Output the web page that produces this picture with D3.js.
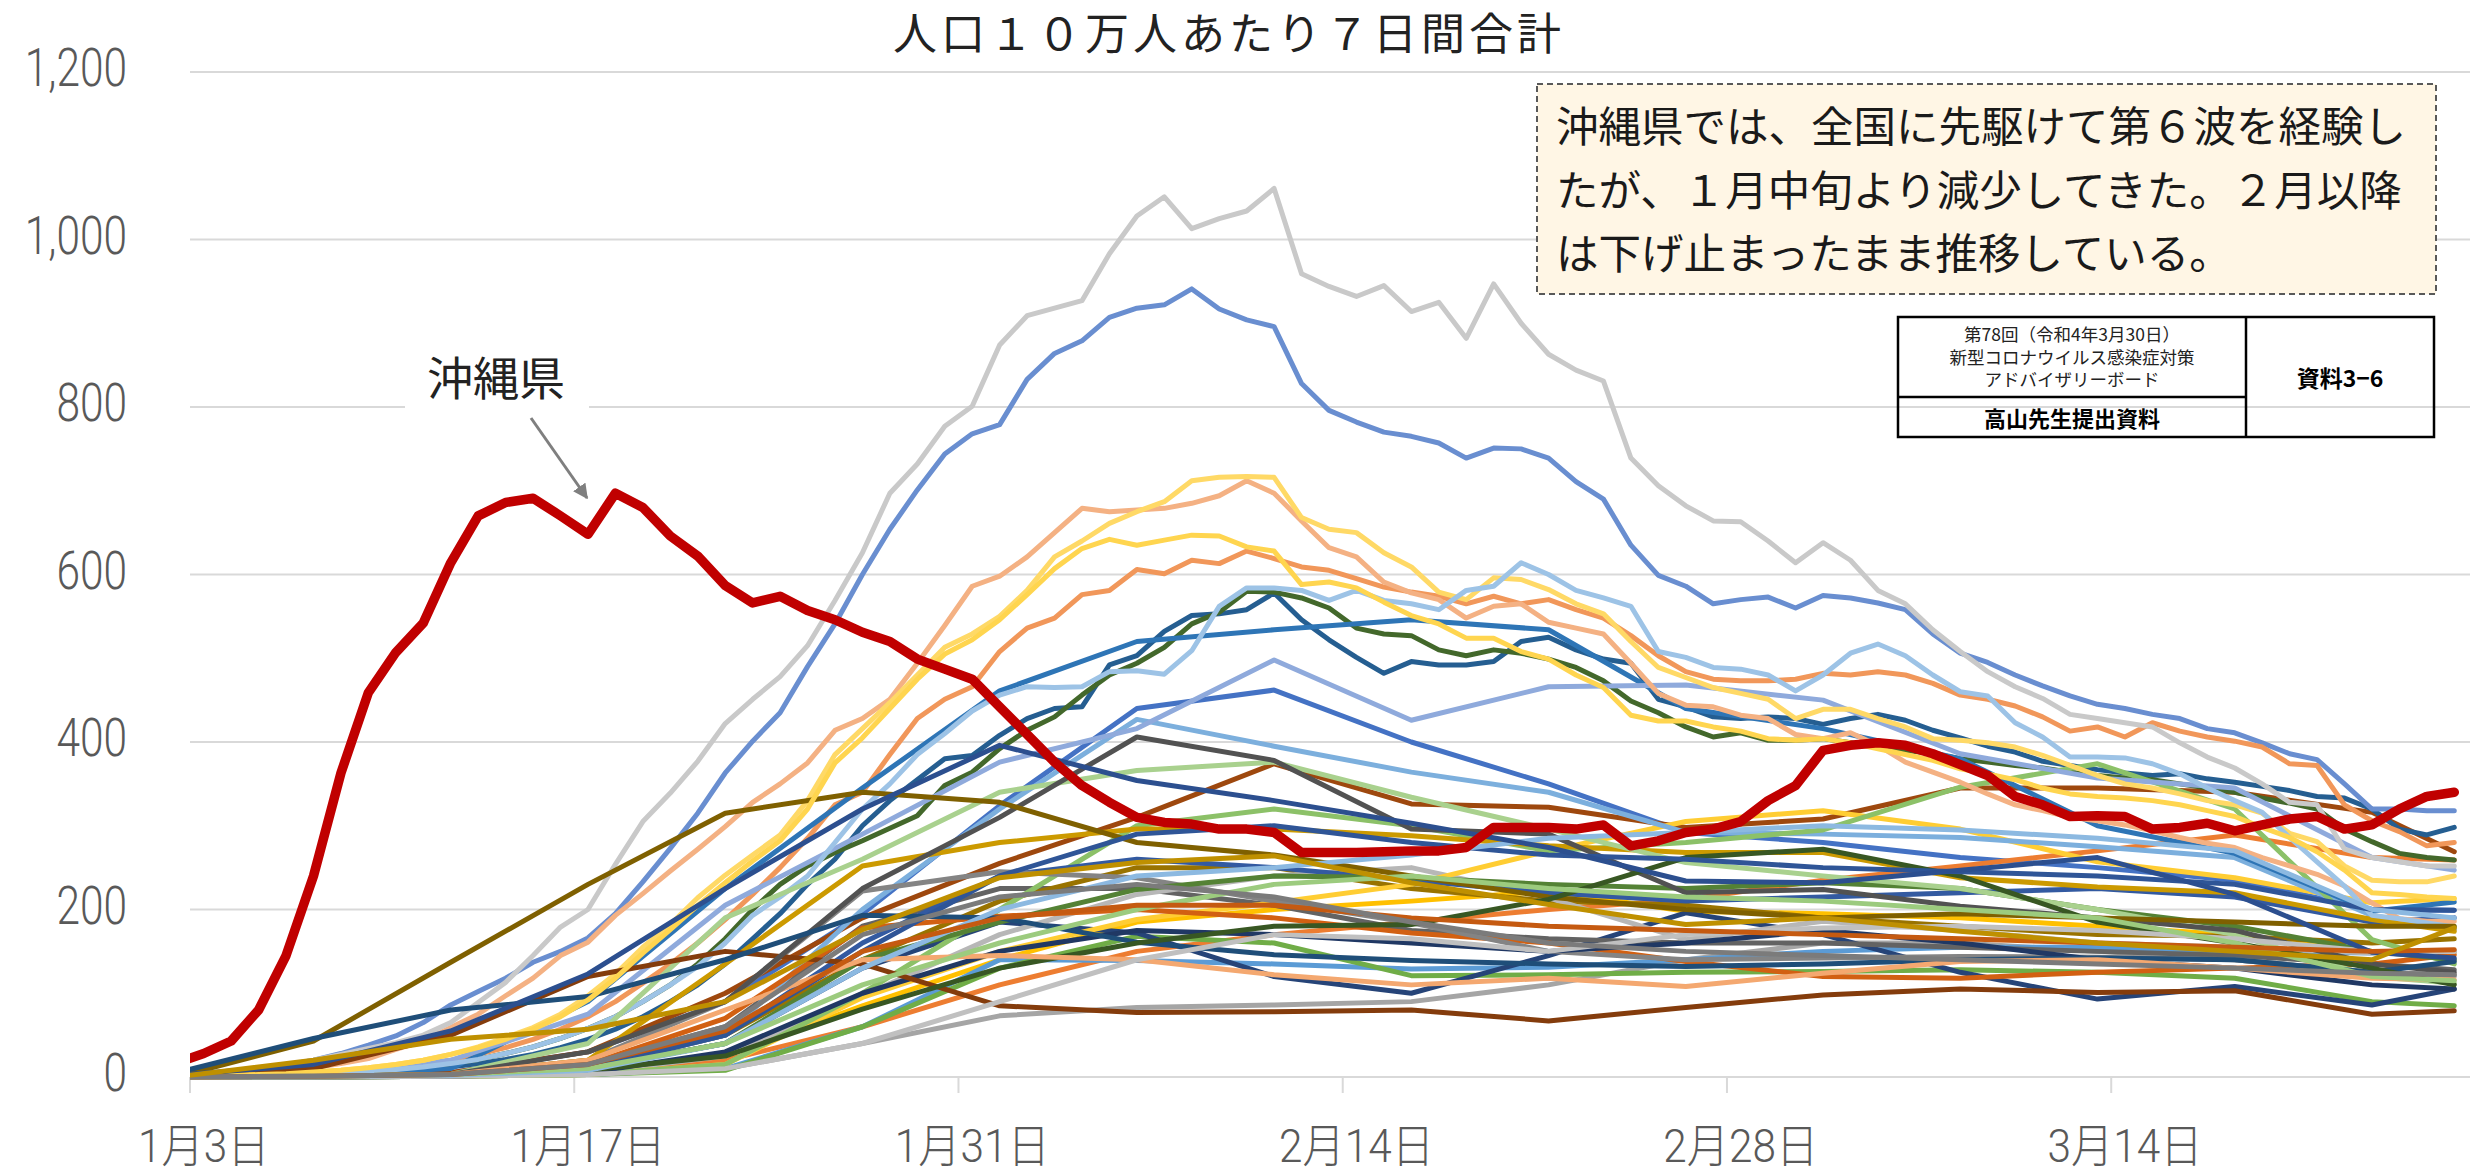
<!DOCTYPE html>
<html>
<head>
<meta charset="utf-8">
<script src="https://cdn.jsdelivr.net/npm/d3@7"></script>
<style>
  body { margin: 0; background: #fff; }
  svg { display: block; }
</style>
</head>
<body>
<div id="chart"></div>
<script>
const W = 2478, H = 1173;

// x axis: Jan 3 .. Mar 27 2022, each value sits in the middle of its day
const axisStart = new Date(2022, 0, 3);
const axisEnd = new Date(2022, 2, 27);
const tickDates = [new Date(2022, 0, 3), new Date(2022, 0, 17), new Date(2022, 0, 31),
                   new Date(2022, 1, 14), new Date(2022, 1, 28), new Date(2022, 2, 14)];
const yTicks = [0, 200, 400, 600, 800, 1000, 1200];

// day offsets from Jan 3
const dailyDays = d3.range(-1, 83);
const sparseDays = [-1, 4, 9, 14, 19, 24, 29, 34, 39, 44, 49, 54, 59, 64, 69, 74, 79, 82];

// daily series (Jan 2 .. Mar 26)
const okinawa = [17,28,43,80,145,240,363,459,507,542, 614,670,686,691,670,648,697,680,646,622,
  587,566,574,557,546,531,520,499,487,475, 442,409,376,348,328,310,304,302,296,296,
  292,268,268,268,269,270,270,274,298,298, 298,296,301,276,282,292,296,305,330,348,
  390,396,399,396,386,373,360,335,325,311, 312,311,296,298,303,294,301,308,311,296, 301,320,335,340];
const osaka = [3,4,6,9,14,20,27,34,41,50, 65,89,113,145,179,200,254,305,339,377,
  422,451,478,515,569,626,697,732,777,801, 874,909,918,927,983,1028,1051,1013,1025,1034,
  1061,959,944,932,945,914,925,882,947,900, 863,844,831,739,706,682,664,663,640,614,
  638,617,581,565,534,508,484,466,452,433, 428,423,418,399,382,369,350,328,325,272, 262,257,252,252];
const tokyo = [3,4,6,9,14,20,28,38,49,65, 86,102,118,137,150,166,195,233,273,315,
  363,401,435,490,541,600,654,701,744,768, 779,833,864,879,907,918,922,941,917,904,
  896,828,796,782,770,765,757,739,751,750, 739,711,690,635,599,586,565,570,573,560,
  575,572,566,558,529,506,495,480,467,455, 445,440,433,428,416,411,399,386,379,350, 320,320,318,318];
const kyoto = [2,3,4,6,8,11,16,22,33,43, 59,75,97,118,145,161,193,219,246,272,
  299,328,350,375,414,428,451,494,539,586, 598,621,650,679,675,677,679,685,694,712,
  697,664,632,621,591,578,570,548,562,565, 543,536,529,494,458,444,442,432,428,409,
  404,411,396,376,364,352,338,325,318,310, 306,301,294,286,279,274,262,252,242,228, 208,189,186,186];
const hyogo = [1,1,2,3,4,6,8,11,15,20, 27,36,47,59,75,97,123,155,182,214,
  241,265,289,330,385,416,447,480,513,529, 550,581,621,640,661,675,687,712,716,717,
  716,668,654,650,626,609,579,570,596,594, 582,565,553,520,489,477,465,458,451,428,
  439,439,428,418,404,402,399,394,384,372, 360,350,345,338,330,325,315,291,281,252, 235,233,233,240];
const fukuoka = [1,1,2,3,4,6,8,11,15,20, 27,35,45,57,72,92,118,148,176,205,
  232,258,282,320,375,405,440,475,505,522, 546,576,607,631,642,635,641,647,646,633,
  628,588,591,584,567,551,541,524,524,508, 499,480,465,432,425,425,418,413,404,402,
  404,399,392,385,378,368,362,355,345,338, 335,333,330,325,318,311,298,286,269,247, 220,218,215,213];
const kanagawa = [1,1,2,2,3,4,6,8,11,15, 20,27,35,45,57,72,90,112,135,160,
  188,218,250,285,325,340,385,428,451,466, 508,536,548,576,581,606,601,617,613,628,
  619,609,605,595,585,579,574,565,574,565, 570,558,548,527,503,484,475,473,473,475,
  482,480,484,480,470,456,451,443,430,413, 418,406,423,413,406,401,394,374,372,325, 306,293,276,280];
const nara = [1,1,2,2,3,4,5,7,9,12, 16,21,28,36,46,58,72,90,110,132,
  160,193,215,240,280,320,350,385,410,437, 456,466,465,466,484,485,481,509,562,584,
  584,581,569,581,569,565,558,581,586,614, 600,581,572,562,508,501,489,487,480,461,
  480,506,517,503,480,460,455,423,406,382, 382,381,374,362,345,330,316,286,257,228, 193,189,184,179];
const saitama = [1,1,1,2,2,3,4,5,7,9, 12,16,21,27,35,45,57,72,90,110,
  135,165,195,230,260,300,330,355,380,384, 408,428,440,442,492,503,532,551,553,558,
  578,546,522,501,482,496,492,492,496,520, 525,510,499,494,451,442,430,428,430,428,
  421,428,433,426,414,405,395,388,377,372, 367,363,360,362,356,352,347,342,335,333, 320,296,289,298];
const chiba = [0,1,1,2,3,4,5,7,9,12, 16,21,28,36,46,58,72,90,110,135,
  165,200,230,252,268,282,297,312,348,364, 392,414,430,456,480,494,513,541,555,580,
  579,572,560,536,529,527,510,503,510,506, 499,489,473,449,435,418,406,411,402,402,
  404,399,394,390,386,380,376,372,369,364, 360,357,355,350,345,340,333,327,320,296, 281,267,262,259];

// coarser series, read at sparseDays
const hokkaido  = [1,2,5,30,90,195,324,440,462,400,350,292,280,262,250,235,200,199];
const aomori    = [0,1,2,6,20,60,110,150,170,185,200,212,235,252,270,289,262,259];
const iwate     = [0,0,1,3,10,40,73,83,86,90,110,140,160,160,150,140,125,120];
const miyagi    = [0,1,3,8,25,85,140,185,200,210,222,198,195,190,180,170,150,150];
const akita     = [0,0,1,3,10,60,140,139,135,129,131,140,150,155,155,150,148,150];
const yamagata  = [0,0,1,3,8,60,130,168,160,121,122,125,126,128,125,118,90,85];
const fukushima = [0,1,3,10,40,130,185,172,120,100,145,196,170,125,93,108,86,105];
const ibaraki   = [0,1,5,30,100,190,255,310,374,326,322,298,308,345,345,340,316,269];
const tochigi   = [0,1,2,15,60,180,225,225,205,175,165,160,160,155,150,145,135,128];
const gunma     = [0,1,2,10,50,140,210,250,250,225,210,205,190,180,170,168,160,165];
const niigata   = [0,0,1,5,25,97,170,218,240,250,214,164,186,175,160,155,148,150];
const toyama    = [0,0,1,3,15,95,150,188,208,230,270,305,318,296,257,238,208,213];
const ishikawa  = [0,1,2,10,50,200,320,427,395,364,340,292,290,286,275,262,193,176];
const fukui     = [0,0,1,3,15,100,200,300,320,300,270,280,295,346,374,320,164,135];
const yamanashi = [0,1,3,12,50,160,240,260,250,235,220,210,215,220,225,215,185,190];
const nagano    = [0,1,3,15,70,178,192,200,190,172,160,138,120,118,125,130,135,146];
const gifu      = [0,1,3,20,90,222,245,238,210,184,150,140,142,144,143,140,125,122];
const shizuoka  = [0,1,3,20,135,252,280,296,296,288,276,268,268,238,227,220,188,174];
const aichi     = [0,2,10,90,225,345,461,520,534,546,534,440,416,380,300,267,198,209];
const mie       = [0,1,2,10,40,140,185,224,240,238,230,225,232,225,200,180,150,140];
const shiga     = [0,3,20,75,205,290,376,416,498,426,466,468,450,386,357,345,262,247];
const wakayama  = [0,1,3,40,190,260,340,366,376,334,296,256,240,225,200,170,120,112];
const tottori   = [0,0,1,5,30,100,150,175,170,160,150,160,175,160,140,130,110,105];
const shimane   = [1,10,50,120,150,135,85,77,78,80,67,83,98,105,101,103,75,79];
const okayama   = [0,1,3,30,90,225,310,406,378,296,290,220,224,204,190,175,135,125];
const hiroshima = [0,43,137,230,315,340,328,280,265,240,215,200,190,195,190,185,180,180];
const yamaguchi = [5,46,80,96,140,193,190,161,146,139,135,132,135,140,142,140,125,138];
const tokushima = [0,1,3,8,25,81,130,160,180,182,212,262,272,240,185,160,130,110];
const kagawa    = [0,1,2,10,50,150,240,290,300,280,265,260,250,245,240,230,200,199];
const ehime     = [0,1,3,20,80,140,145,140,122,110,118,108,124,138,140,130,118,116];
const kochi     = [0,0,1,3,10,40,90,140,170,165,150,170,178,180,175,165,150,150];
const saga      = [0,1,2,8,40,130,200,240,250,265,285,292,300,295,285,270,200,190];
const nagasaki  = [0,1,3,10,40,110,160,200,230,240,225,215,210,200,190,160,120,115];
const kumamoto  = [2,15,55,123,225,320,396,354,330,303,274,234,232,247,262,218,149,142];
const oita      = [0,1,3,15,55,150,190,205,205,190,180,175,170,165,160,155,150,152];
const miyazaki  = [0,1,3,15,60,170,215,230,215,185,160,150,145,140,135,130,124,122];
const kagoshima = [0,20,45,57,90,176,238,256,264,232,206,182,190,174,160,150,140,178];

const prefs = [
  ["北海道", "#4472C4", hokkaido, sparseDays], ["青森県", "#ED7D31", aomori, sparseDays],
  ["岩手県", "#A5A5A5", iwate, sparseDays], ["宮城県", "#FFC000", miyagi, sparseDays],
  ["秋田県", "#5B9BD5", akita, sparseDays], ["山形県", "#70AD47", yamagata, sparseDays],
  ["福島県", "#264478", fukushima, sparseDays], ["茨城県", "#9E480E", ibaraki, sparseDays],
  ["栃木県", "#636363", tochigi, sparseDays], ["群馬県", "#997300", gunma, sparseDays],
  ["埼玉県", "#255E91", saitama, dailyDays], ["千葉県", "#43682B", chiba, dailyDays],
  ["東京都", "#698ED0", tokyo, dailyDays], ["神奈川県", "#F1975A", kanagawa, dailyDays],
  ["新潟県", "#B7B7B7", niigata, sparseDays], ["富山県", "#FFCD33", toyama, sparseDays],
  ["石川県", "#7CAFDD", ishikawa, sparseDays], ["福井県", "#8CC168", fukui, sparseDays],
  ["山梨県", "#335AA1", yamanashi, sparseDays], ["長野県", "#D26012", nagano, sparseDays],
  ["岐阜県", "#848484", gifu, sparseDays], ["静岡県", "#CC9A00", shizuoka, sparseDays],
  ["愛知県", "#2E75B6", aichi, sparseDays], ["三重県", "#548235", mie, sparseDays],
  ["滋賀県", "#8FAADC", shiga, sparseDays], ["京都府", "#F4B183", kyoto, dailyDays],
  ["大阪府", "#C9C9C9", osaka, dailyDays], ["兵庫県", "#FFD966", hyogo, dailyDays],
  ["奈良県", "#9DC3E6", nara, dailyDays], ["和歌山県", "#A9D18E", wakayama, sparseDays],
  ["鳥取県", "#203864", tottori, sparseDays], ["島根県", "#843C0C", shimane, sparseDays],
  ["岡山県", "#525252", okayama, sparseDays], ["広島県", "#7F6000", hiroshima, sparseDays],
  ["山口県", "#1F4E79", yamaguchi, sparseDays], ["徳島県", "#385723", tokushima, sparseDays],
  ["香川県", "#2F5597", kagawa, sparseDays], ["愛媛県", "#F4A870", ehime, sparseDays],
  ["高知県", "#C0C0C0", kochi, sparseDays], ["福岡県", "#FFD54F", fukuoka, dailyDays],
  ["佐賀県", "#8CB9E1", saga, sparseDays], ["長崎県", "#9CCB7E", nagasaki, sparseDays],
  ["熊本県", "#2C4F8F", kumamoto, sparseDays], ["大分県", "#C55A11", oita, sparseDays],
  ["宮崎県", "#7B7B7B", miyazaki, sparseDays], ["鹿児島県", "#BF9000", kagoshima, sparseDays],
  ["沖縄県", "#C00000", okinawa, dailyDays]
];

const titleText = "人口１０万人あたり７日間合計";
const noteLines = ["沖縄県では、全国に先駆けて第６波を経験し",
                   "たが、１月中旬より減少してきた。２月以降",
                   "は下げ止まったまま推移している。"];
const tableLines = ["第78回（令和4年3月30日）", "新型コロナウイルス感染症対策", "アドバイザリーボード"];

const x = d3.scaleTime().domain([axisStart, axisEnd]).range([190, 2468]);
const y = d3.scaleLinear().domain([0, 1200]).range([1077, 72]);
const dayMid = d => d3.timeHour.offset(d3.timeDay.offset(axisStart, d), 12);

const svg = d3.select("#chart").append("svg")
  .attr("width", W).attr("height", H)
  .style("font-family", "'Noto Sans CJK JP', sans-serif");

svg.append("rect").attr("width", W).attr("height", H).attr("fill", "#fff");

const defs = svg.append("defs");
defs.append("clipPath").attr("id", "plot")
  .append("rect").attr("x", 190).attr("y", 0).attr("width", W - 190).attr("height", H);

// gridlines
svg.append("g").selectAll("line").data(yTicks).join("line")
  .attr("x1", 190).attr("x2", 2470)
  .attr("y1", d => y(d)).attr("y2", d => y(d))
  .attr("stroke", "#d9d9d9").attr("stroke-width", 2);

// y labels (condensed by a horizontal squeeze)
svg.append("g").selectAll("text").data(yTicks).join("text")
  .attr("transform", d => `translate(127,${y(d) + 14}) scale(0.8,1)`)
  .attr("text-anchor", "end")
  .style("font-family", "Roboto, 'Liberation Sans', sans-serif")
  .attr("font-weight", 300)
  .attr("font-size", 53).attr("fill", "#595959")
  .text(d3.format(","));

// x ticks + labels
svg.append("g").selectAll("line").data(tickDates).join("line")
  .attr("x1", d => x(d)).attr("x2", d => x(d))
  .attr("y1", y(0)).attr("y2", y(0) + 16)
  .attr("stroke", "#d9d9d9").attr("stroke-width", 2);

svg.append("g").selectAll("text").data(tickDates).join("text")
  .attr("transform", d => `translate(${x(d3.timeHour.offset(d, 12))},1162) scale(0.92,1)`)
  .attr("text-anchor", "middle")
  .style("font-family", "Roboto, 'Noto Sans CJK JP', sans-serif")
  .attr("font-weight", 300)
  .attr("font-size", 46).attr("fill", "#595959")
  .text(d => `${d.getMonth() + 1}月${d.getDate()}日`);

// lines
const line = d3.line().x(p => x(dayMid(p[0]))).y(p => y(p[1]));
svg.append("g").attr("clip-path", "url(#plot)")
  .selectAll("path").data(prefs).join("path")
  .attr("d", p => line(p[3].map((d, i) => [d, p[2][i]])))
  .attr("fill", "none")
  .attr("stroke", p => p[1])
  .attr("stroke-width", p => p[0] === "沖縄県" ? 9.5 : 5)
  .attr("stroke-linejoin", "round")
  .attr("stroke-linecap", "round");

// title
svg.append("text")
  .attr("x", 1229).attr("y", 50)
  .attr("text-anchor", "middle")
  .attr("font-size", 44).attr("letter-spacing", 4)
  .attr("fill", "#222")
  .text(titleText);

// Okinawa label with arrow
svg.append("rect").attr("x", 405).attr("y", 340).attr("width", 184).attr("height", 76).attr("fill", "#fff");
svg.append("text").attr("x", 427).attr("y", 395)
  .attr("font-size", 46).attr("fill", "#222").text("沖縄県");

defs.append("marker")
  .attr("id", "arr").attr("viewBox", "0 0 10 10")
  .attr("refX", 9).attr("refY", 5)
  .attr("markerWidth", 5).attr("markerHeight", 5)
  .attr("orient", "auto")
  .append("path").attr("d", "M0,0L10,5L0,10z").attr("fill", "#7f7f7f");

svg.append("line")
  .attr("x1", 531).attr("y1", 418).attr("x2", 587).attr("y2", 498)
  .attr("stroke", "#7f7f7f").attr("stroke-width", 3)
  .attr("marker-end", "url(#arr)");

// note box
svg.append("rect")
  .attr("x", 1537).attr("y", 84).attr("width", 899).attr("height", 210)
  .attr("fill", "#fff6e5").attr("stroke", "#595959")
  .attr("stroke-width", 2).attr("stroke-dasharray", "6,4");

svg.append("g").selectAll("text").data(noteLines).join("text")
  .attr("x", 1556).attr("y", (d, i) => 142 + i * 63.5)
  .attr("font-size", 42.5).attr("fill", "#1a1a1a")
  .text(d => d);

// source table
const tb = svg.append("g").attr("fill", "none").attr("stroke", "#000").attr("stroke-width", 2.5);
tb.append("rect").attr("x", 1898).attr("y", 317).attr("width", 536).attr("height", 120);
tb.append("line").attr("x1", 2246).attr("x2", 2246).attr("y1", 317).attr("y2", 437);
tb.append("line").attr("x1", 1898).attr("x2", 2246).attr("y1", 397).attr("y2", 397);

svg.append("g").selectAll("text").data(tableLines).join("text")
  .attr("x", 2072).attr("y", (d, i) => 341 + i * 22.5)
  .attr("text-anchor", "middle")
  .attr("font-size", 17.5).attr("fill", "#222")
  .text(d => d);

svg.append("text").attr("x", 2072).attr("y", 427)
  .attr("text-anchor", "middle").attr("font-size", 22).attr("font-weight", "bold")
  .attr("fill", "#000").text("高山先生提出資料");

svg.append("text").attr("x", 2340).attr("y", 387)
  .attr("text-anchor", "middle").attr("font-size", 23).attr("font-weight", "bold")
  .attr("fill", "#000").text("資料3−6");
</script>
</body>
</html>
